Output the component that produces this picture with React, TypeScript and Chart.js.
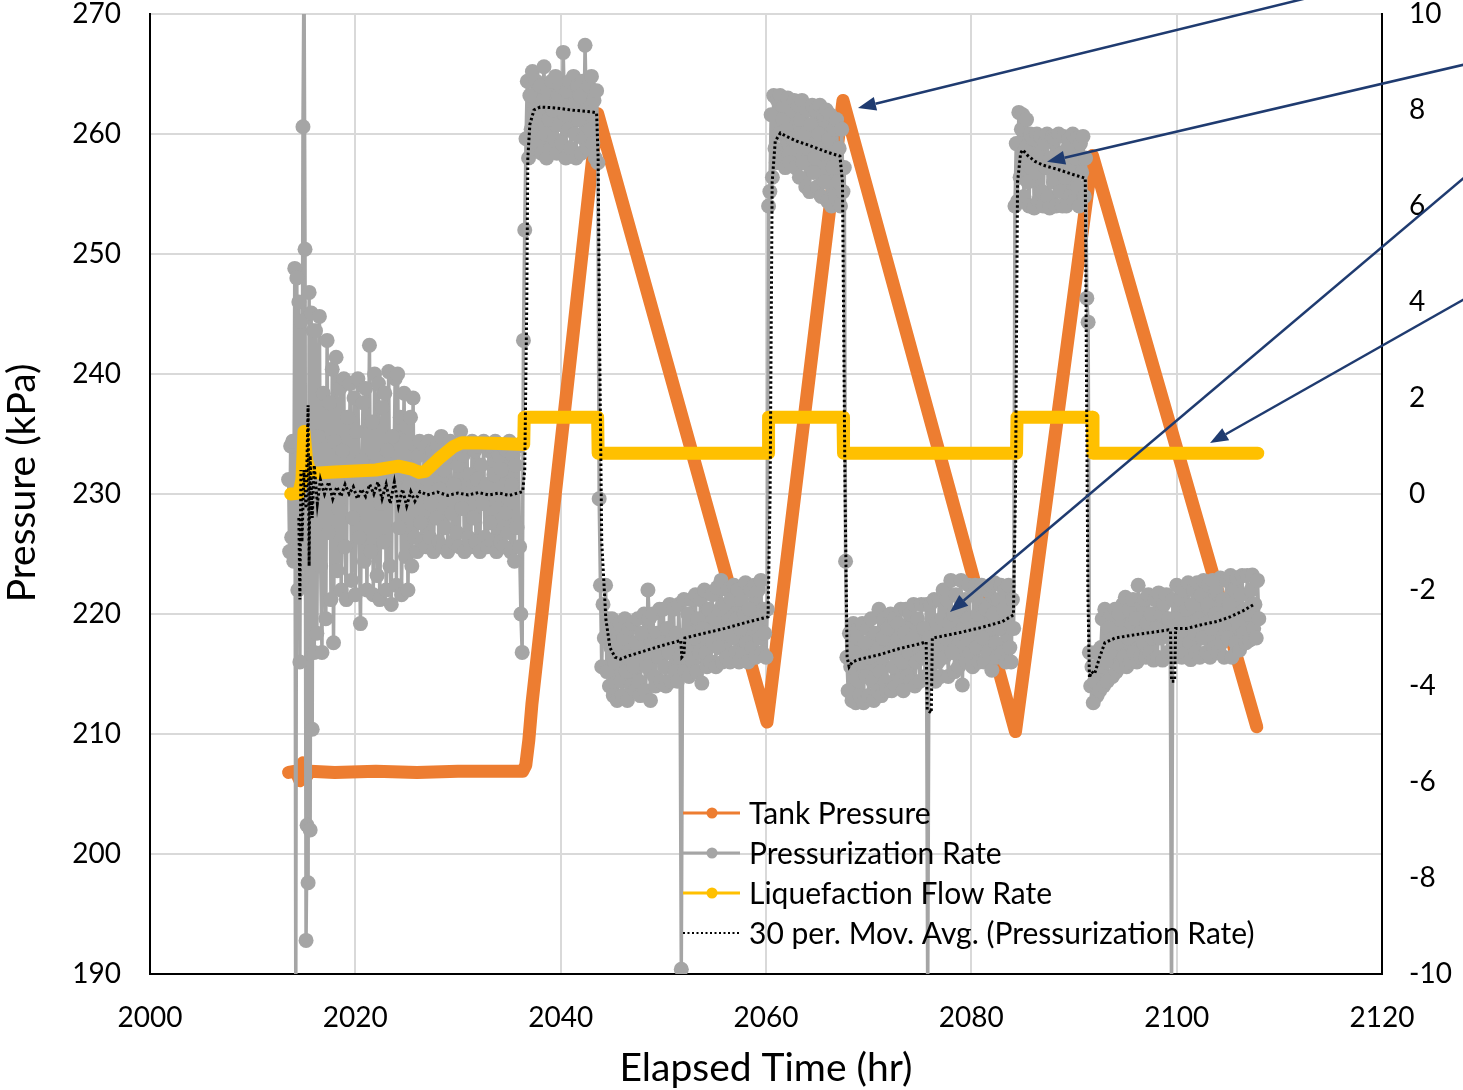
import { useEffect, useRef } from "react";
import { Chart, registerables } from "chart.js";

Chart.register(...registerables);

const FONT = "Lato, 'Open Sans', sans-serif";

// ---------- axes ----------
const xMin = 2000, xMax = 2120, xStep = 20;
const pMin = 190, pMax = 270, pStep = 10;
const rMin = -10, rMax = 10, rStep = 2;

// ---------- Tank Pressure (kPa, left axis): [hr, kPa] ----------
const tankPressure: [number, number][] = [
  [2013.5, 206.8], [2014.2, 206.9], [2014.6, 206.1], [2014.9, 207.6], [2015.2, 206.4],
  [2015.6, 206.9], [2018, 206.8], [2022, 206.9], [2026, 206.8], [2030, 206.9],
  [2034, 206.9], [2036.3, 206.9], [2036.6, 207.4], [2036.9, 209.5], [2037.2, 212.5],
  [2043.6, 261.7], [2060.1, 211.0], [2067.5, 262.8], [2084.3, 210.2], [2091.8, 258.2],
  [2107.8, 210.6],
];

// ---------- Liquefaction Flow Rate (right axis): [hr, value] ----------
const liquefactionRate: [number, number][] = [
  [2013.7, 0.0], [2014.5, 0.02], [2014.8, 0.3], [2015.0, 1.3], [2015.25, 0.7],
  [2015.6, 0.45], [2016.5, 0.44], [2018, 0.46], [2020, 0.48], [2022, 0.5],
  [2024.2, 0.58], [2025.5, 0.52], [2026.2, 0.45], [2026.8, 0.47], [2028.2, 0.75],
  [2029.5, 0.98], [2030.4, 1.07], [2032, 1.06], [2034, 1.05], [2036.4, 1.03],
  [2036.45, 1.6], [2043.6, 1.6], [2043.65, 0.85], [2060.2, 0.85], [2060.25, 1.6],
  [2067.5, 1.6], [2067.55, 0.85], [2084.4, 0.85], [2084.45, 1.6], [2091.8, 1.6],
  [2091.85, 0.85], [2107.9, 0.85],
];

// ---------- Pressurization Rate (right axis), read as regular samples ----------
const rateEarlyStart = 2013.5;
const rateEarlyStep = 0.1;
const rateEarly = [
  0.3, -1.2, 1.0, -0.9, 1.1, -1.4, 4.7, -10.5, 4.5, -2.0,
  4.0, -3.5, 3.6, -1.8, 7.65, 11.0, 5.1, -9.3, -6.9, -8.1,
  4.2, -7.0, 3.77, -4.9, 3.4, -3.3,
];

const rateStep = 0.125;

const rateIdleStart = 2016.125;
const rateIdle = [
  3.4, -2.9, 1.2, 3.7, -1.5, -3.3, 2.1,
  0.4, -2.6, 3.2, -0.8, 1.9, -2.2, 2.6, -3.1,
  1.1, 2.85, -1.6, -0.3, 2.2, -2.0, 0.9, 2.4,
  -1.1, -2.2, 1.6, 0.2, 2.3, -1.8, -0.5, 2.0,
  -2.1, 1.3, 2.4, -0.9, -2.7, 0.7, 1.9, -1.4,
  2.2, -2.0, 0.1, 3.1, -1.2, 1.5, -2.1, 2.5,
  0.6, -1.7, 2.3, -2.2, -0.2, 1.8, -1.0, 2.1,
  -2.0, 0.9, 2.55, -1.5, -2.3, 1.2, 0.3, 2.4,
  -1.9, 2.5, -0.7, 1.6, -2.1, 0.5, 2.1, -1.3,
  1.4, -2.0, 0.2, 1.6, -1.5, 2.0, -0.9, 1.0,
  -1.2, 0.8, 1.1, -0.6, -1.0, 0.4, 1.0, -1.1,
  0.3, 1.1, -0.9, -0.2, 0.9, -1.2, 0.6, -0.5,
  1.0, -1.0, 0.1, 1.2, -1.1, 0.5, -0.7, 0.9,
  -1.2, 0.7, 1.1, -0.4, -1.0, 0.2, 1.0, -0.8,
  0.6, -1.1, 1.3, -0.3, 0.8, -1.2, 0.0, 1.0,
  -0.9, 0.4, -1.1, 1.1, -0.5, 0.9, -1.0, 0.3,
  1.0, -1.2, 0.6, -0.2, 1.1, -0.9, 0.2, -1.1,
  0.9, -0.6, 1.0, -1.0, 0.4, 1.1, -1.2, -0.3,
  0.8, -1.0, 0.5, 1.0, -1.1, -0.4, 0.9, -0.8,
  1.1, -1.2, 0.2, 0.8, -1.4, 0.6, -0.7, 1.0,
  -1.1, -2.5, -3.3,
];

const rateHigh1Start = 2036.375;
const rateHigh1 = [
  3.2, 5.5, 7.4, 8.6, 7.0,
  8.3, 7.6, 8.8, 7.2, 8.0, 8.6, 7.3, 7.9,
  8.5, 7.1, 8.2, 8.9, 7.5, 7.0, 8.4, 7.8,
  7.2, 8.6, 8.0, 7.4, 8.7, 7.1, 8.3, 7.7,
  8.5, 7.3, 9.2, 7.9, 7.0, 8.4, 7.6, 8.6,
  7.2, 8.1, 8.7, 7.5, 7.0, 8.5, 7.8, 8.3,
  7.1, 8.6, 7.4, 9.35, 8.0, 7.2, 8.5, 7.6,
  8.7, 7.3, 8.2, 7.0, 8.4, 6.9,
];

const rateLow1Start = 2043.75;
const rateLow1 = [
  -0.1, -1.9,
  -3.6, -2.3, -3.0, -1.9, -3.7, -2.6, -4.0, -3.2,
  -2.6, -4.2, -3.5, -2.8, -4.3, -3.1, -2.7, -3.9,
  -4.2, -3.0, -2.6, -3.7, -4.3, -2.8, -3.4, -4.0,
  -2.7, -3.6, -4.1, -3.1, -2.6, -3.9, -4.2, -2.9,
  -3.4, -2.5, -4.1, -3.6, -2.0, -2.6, -4.3, -3.2,
  -2.5, -3.8, -4.0, -2.9, -3.4, -2.4, -3.9, -3.1,
  -2.4, -3.6, -4.0, -2.8, -3.3, -2.3, -3.9, -3.0,
  -2.4, -3.7, -2.9, -3.9, -2.3, -3.4, -9.9, -3.1,
  -2.2, -3.7, -3.0, -2.5, -3.8, -2.9, -2.2, -3.5,
  -3.0, -2.1, -3.7, -2.6, -3.3, -2.2, -3.94, -2.8,
  -2.0, -3.3, -3.6, -2.4, -2.9, -3.5, -2.1, -3.1,
  -2.6, -3.6, -1.95, -3.2, -2.4, -1.8, -3.5, -2.9,
  -2.3, -3.4, -2.0, -2.8, -3.5, -2.2, -3.0, -1.9,
  -3.3, -2.6, -2.0, -3.5, -2.8, -2.2, -3.3, -2.5,
  -1.85, -3.1, -3.5, -2.4, -2.0, -3.2, -2.7, -1.9,
  -3.4, -2.6, -2.0, -3.0, -1.8, -3.3, -2.4, -2.9,
  -3.4, -2.4,
];

const rateHigh2Start = 2060.25;
const rateHigh2 = [
  6.0, 6.3, 7.9, 6.6, 8.3, 7.2,
  6.9, 8.2, 7.5, 8.3, 7.0, 7.8, 8.1, 6.8,
  7.6, 8.25, 7.1, 6.9, 8.0, 7.4, 8.2, 6.8,
  7.3, 8.1, 6.6, 7.8, 8.2, 6.9, 7.5, 6.4,
  8.0, 7.2, 6.3, 7.7, 8.1, 6.7, 7.0, 8.0,
  6.4, 7.5, 8.1, 6.2, 7.1, 7.9, 6.5, 8.0,
  6.1, 7.4, 7.9, 6.0, 6.8, 7.6, 6.2, 7.8,
  6.5, 7.2, 6.0, 7.6, 6.3, 6.8,
];

const rateLow2Start = 2067.75;
const rateLow2 = [
  -1.4, -3.4,
  -4.1, -2.9, -3.6, -4.3, -2.7, -3.2, -4.35, -3.0,
  -2.8, -4.2, -3.5, -2.7, -4.35, -3.1, -3.8, -2.8,
  -4.2, -3.4, -2.6, -3.9, -4.3, -2.9, -3.3, -4.1,
  -2.4, -3.7, -4.2, -3.0, -2.6, -3.9, -4.1, -2.8,
  -3.3, -2.5, -4.1, -3.6, -2.6, -4.0, -3.2, -2.7,
  -3.9, -2.4, -3.5, -4.1, -2.9, -2.4, -3.8, -3.3,
  -2.5, -3.9, -3.0, -2.3, -4.0, -3.5, -2.6, -3.2,
  -3.9, -2.3, -3.4, -2.8, -3.8, -2.3, -10.5, -3.0,
  -2.3, -3.8, -3.3, -2.2, -3.9, -2.7, -3.5, -2.2,
  -3.8, -2.6, -2.0, -3.4, -3.0, -2.2, -3.8, -2.7,
  -1.8, -3.3, -2.5, -3.7, -2.1, -2.9, -3.6, -2.4,
  -1.8, -3.98, -2.8, -2.2, -3.5, -2.6, -1.9, -3.3,
  -2.8, -3.6, -2.1, -1.9, -3.2, -2.5, -3.5, -2.3,
  -1.9, -3.0, -3.5, -2.4, -2.0, -3.3, -2.7, -1.9,
  -3.67, -2.5, -1.85, -3.1, -3.4, -2.2, -2.8, -1.9,
  -3.3, -2.4, -2.0, -3.5, -2.7, -1.9, -3.2, -3.5,
  -2.2, -2.8,
];

const rateHigh3Start = 2084.25;
const rateHigh3 = [
  6.0, 7.3, 6.1, 7.95, 6.6, 7.6,
  7.9, 6.2, 7.2, 7.8, 6.5, 6.0, 7.5, 6.8,
  7.4, 5.96, 6.7, 7.5, 6.1, 7.1, 7.45, 6.3,
  6.0, 7.3, 6.8, 7.5, 6.2, 5.96, 7.0, 7.45,
  6.5, 7.4, 6.0, 6.9, 7.5, 6.3, 7.1, 6.0,
  7.45, 6.6, 6.0, 7.2, 7.4, 6.2, 6.8, 7.5,
  6.1, 7.0, 7.4, 6.4, 6.0, 7.3, 6.7, 7.45,
  6.2, 7.0, 4.08, 3.58, -3.3, -4.0,
];

const rateLow3Start = 2091.75;
const rateLow3 = [
  -3.6, -4.35,
  -3.9, -3.3, -4.2, -3.6, -4.1, -3.2, -2.6, -4.0,
  -2.4, -3.5, -3.9, -2.8, -3.3, -2.5, -3.8, -3.0,
  -2.4, -3.7, -3.1, -2.5, -3.6, -2.9, -2.3, -3.4,
  -2.15, -3.6, -3.0, -2.4, -3.5, -2.7, -2.2, -3.3,
  -2.6, -3.5, -1.9, -2.9, -3.4, -2.3, -3.1, -2.2,
  -3.4, -2.7, -2.1, -3.3, -2.5, -3.0, -3.46, -2.2,
  -2.8, -3.4, -2.06, -3.0, -2.5, -3.46, -2.3, -2.9,
  -2.1, -3.3, -2.6, -3.0, -10.5, -2.2, -3.4, -2.6,
  -1.9, -3.2, -2.7, -2.2, -3.4, -2.0, -2.8, -3.3,
  -2.4, -1.85, -3.1, -3.45, -2.3, -2.0, -2.9, -3.3,
  -1.85, -2.6, -3.4, -2.1, -3.0, -1.8, -2.7, -3.3,
  -2.3, -1.9, -3.4, -2.8, -1.8, -3.2, -2.5, -2.0,
  -3.3, -2.6, -1.75, -3.1, -2.2, -3.4, -2.7, -1.8,
  -3.0, -2.3, -1.7, -3.4, -2.6, -2.0, -3.1, -1.75,
  -2.7, -3.25, -2.1, -1.7, -2.9, -2.4, -3.1, -1.7,
  -2.5, -3.04, -2.0, -1.69, -2.8, -2.3, -3.0, -1.8,
  -2.6,
];

// ---------- 30 per. Mov. Avg. (Pressurization Rate): [hr, value] ----------
const movingAvg: [number, number][] = [
  [2014.5, -0.5], [2014.6, -2.2], [2014.7, 0.5], [2014.8, -1.0], [2015.0, 0.5],
  [2015.2, -0.3], [2015.4, 1.85], [2015.5, -1.5], [2015.6, 0.8], [2015.8, -0.5],
  [2016.0, 0.6], [2016.3, -0.2], [2016.6, 0.3], [2017.0, 0.0], [2017.4, 0.25],
  [2017.8, -0.1], [2018.2, 0.15], [2018.6, -0.05], [2019.0, 0.2], [2019.4, 0.0],
  [2019.8, 0.15], [2020.2, -0.1], [2020.6, 0.1], [2021.0, -0.05], [2021.4, 0.2],
  [2021.8, 0.0], [2022.2, 0.25], [2022.6, -0.1], [2023.0, 0.2], [2023.4, -0.2],
  [2023.8, 0.25], [2024.2, -0.25], [2024.6, 0.1], [2025.0, -0.25], [2025.4, 0.05],
  [2025.8, -0.15], [2026.3, 0.05], [2027, -0.02], [2028, 0.04], [2029, -0.03],
  [2030, 0.02], [2031, -0.02], [2032, 0.03], [2033, -0.02], [2034, 0.02],
  [2035, -0.03], [2036.3, 0.05], [2036.5, 0.5], [2036.7, 4.0], [2036.8, 7.0],
  [2037.0, 7.7], [2037.4, 8.0], [2038.0, 8.06], [2039, 8.05], [2040, 8.03],
  [2041, 8.0], [2042, 7.98], [2043, 7.96], [2043.5, 7.94], [2043.65, 7.0],
  [2043.8, 3.0], [2044.0, -1.0], [2044.4, -2.6], [2044.8, -3.2], [2045.3, -3.4],
  [2045.8, -3.44], [2046.5, -3.38], [2048, -3.28], [2050, -3.15], [2051.7, -3.05],
  [2051.8, -3.4], [2052.0, -3.35], [2052.1, -3.0], [2054, -2.9], [2056, -2.8],
  [2058, -2.68], [2060.2, -2.56], [2060.4, 0.0], [2060.6, 6.5], [2060.9, 7.35],
  [2061.4, 7.52], [2062, 7.45], [2063, 7.35], [2064, 7.28], [2065, 7.2],
  [2066, 7.12], [2067.2, 7.04], [2067.45, 6.5], [2067.7, 0.0], [2067.9, -3.4],
  [2068.1, -3.6], [2068.4, -3.5], [2069, -3.45], [2071, -3.35], [2073, -3.22],
  [2075, -3.12], [2075.6, -3.08], [2075.7, -4.5], [2076.1, -4.56], [2076.2, -3.0],
  [2077, -2.97], [2079, -2.88], [2081, -2.78], [2083, -2.66], [2084.1, -2.52],
  [2084.3, 0.0], [2084.5, 6.5], [2084.8, 7.1], [2085.0, 7.17], [2085.5, 7.05],
  [2086.2, 6.93], [2087, 6.85], [2088.6, 6.75], [2090, 6.65], [2091.1, 6.58],
  [2091.2, 3.0], [2091.35, -2.0], [2091.5, -3.83], [2091.7, -3.7], [2092.0, -3.75],
  [2092.5, -3.4], [2093.0, -3.1], [2094, -3.0], [2096, -2.93], [2098, -2.87],
  [2099.2, -2.83], [2099.4, -2.85], [2099.5, -3.9], [2099.8, -3.9], [2099.9, -2.8],
  [2101, -2.8], [2102.3, -2.73], [2104, -2.65], [2105.2, -2.56], [2106.5, -2.43],
  [2107.6, -2.29],
];

// ---------- annotation arrows (hr, right-axis value) ----------
const arrowTails: [number, number][] = [[2115.9, 10.5], [2129.1, 9.0], [2129.1, 6.79], [2129.1, 4.19]];
const arrowTips: [number, number][] = [[2068.96, 8.04], [2087.37, 6.92], [2077.92, -2.46], [2103.25, 1.06]];

const legendLabels = [
  "Tank Pressure",
  "Pressurization Rate",
  "Liquefaction Flow Rate",
  "30 per. Mov. Avg. (Pressurization Rate)",
];

const ORANGE = "#ED7D31";
const GRAY = "#A5A5A5";
const YELLOW = "#FFC000";
const NAVY = "#1F3B70";

const pairs = (arr: [number, number][]) => arr.map(([x, y]) => ({ x, y }));
const sampled = (start: number, step: number, vals: number[]) =>
  vals.map((y, i) => ({ x: Math.round((start + i * step) * 1000) / 1000, y }));

const ratePoints = [
  ...sampled(rateEarlyStart, rateEarlyStep, rateEarly),
  ...sampled(rateIdleStart, rateStep, rateIdle),
  ...sampled(rateHigh1Start, rateStep, rateHigh1),
  ...sampled(rateLow1Start, rateStep, rateLow1),
  ...sampled(rateHigh2Start, rateStep, rateHigh2),
  ...sampled(rateLow2Start, rateStep, rateLow2),
  ...sampled(rateHigh3Start, rateStep, rateHigh3),
  ...sampled(rateLow3Start, rateStep, rateLow3),
];

const overlayPlugin = {
  id: "overlay",
  afterDraw(chart: any) {
    const ctx: CanvasRenderingContext2D = chart.ctx;
    const xs = chart.scales.x;
    const ys = chart.scales.y2;
    const area = chart.chartArea;
    ctx.save();

    // axis titles
    ctx.fillStyle = "#000";
    ctx.font = `39px ${FONT}`;
    ctx.textAlign = "center";
    ctx.textBaseline = "middle";
    ctx.fillText("Elapsed Time (hr)", (area.left + area.right) / 2, 1068);
    ctx.save();
    ctx.translate(22, 483);
    ctx.rotate(-Math.PI / 2);
    ctx.fillText("Pressure (kPa)", 0, 0);
    ctx.restore();

    // legend
    const lx = 683;
    const colors = [ORANGE, GRAY, YELLOW];
    ctx.font = `30px ${FONT}`;
    ctx.textAlign = "left";
    legendLabels.forEach((label, i) => {
      const cy = 813 + i * 40;
      if (i < 3) {
        ctx.strokeStyle = colors[i];
        ctx.lineWidth = 3;
        ctx.setLineDash([]);
        ctx.beginPath();
        ctx.moveTo(lx, cy);
        ctx.lineTo(lx + 57, cy);
        ctx.stroke();
        ctx.fillStyle = colors[i];
        ctx.beginPath();
        ctx.arc(lx + 29, cy, 5.5, 0, Math.PI * 2);
        ctx.fill();
      } else {
        ctx.strokeStyle = "#000";
        ctx.lineWidth = 2;
        ctx.setLineDash([2, 2.5]);
        ctx.beginPath();
        ctx.moveTo(lx, cy);
        ctx.lineTo(lx + 56, cy);
        ctx.stroke();
        ctx.setLineDash([]);
      }
      ctx.fillStyle = "#000";
      ctx.fillText(label, lx + 66, cy + 1);
    });

    // arrows
    ctx.strokeStyle = NAVY;
    ctx.fillStyle = NAVY;
    ctx.lineWidth = 2.5;
    arrowTails.forEach((tail, i) => {
      const tip = arrowTips[i];
      const x0 = xs.getPixelForValue(tail[0]);
      const y0 = ys.getPixelForValue(tail[1]);
      const x1 = xs.getPixelForValue(tip[0]);
      const y1 = ys.getPixelForValue(tip[1]);
      const ang = Math.atan2(y1 - y0, x1 - x0);
      const len = 18, half = 7;
      const bx = x1 - len * Math.cos(ang);
      const by = y1 - len * Math.sin(ang);
      ctx.beginPath();
      ctx.moveTo(x0, y0);
      ctx.lineTo(bx, by);
      ctx.stroke();
      ctx.beginPath();
      ctx.moveTo(x1, y1);
      ctx.lineTo(bx + half * Math.sin(ang), by - half * Math.cos(ang));
      ctx.lineTo(bx - half * Math.sin(ang), by + half * Math.cos(ang));
      ctx.closePath();
      ctx.fill();
    });
    ctx.restore();
  },
};

const zeroPad = (s: any) => {
  s.paddingTop = 0;
  s.paddingBottom = 0;
  s.paddingLeft = 0;
  s.paddingRight = 0;
};

export default function App() {
  const ref = useRef<HTMLCanvasElement | null>(null);

  useEffect(() => {
    let chart: Chart | null = null;
    let cancelled = false;
    const make = () => {
      if (cancelled || !ref.current) return;
      const tickFont = { family: FONT, size: 28 };
      chart = new Chart(ref.current, {
        type: "line",
        data: {
          datasets: [
            {
              label: "30 per. Mov. Avg. (Pressurization Rate)",
              data: pairs(movingAvg),
              yAxisID: "y2",
              borderColor: "#000",
              borderWidth: 3,
              borderDash: [2.5, 2.5],
              pointRadius: 0,
              fill: false,
              clip: 0,
            },
            {
              label: "Liquefaction Flow Rate",
              data: pairs(liquefactionRate),
              yAxisID: "y2",
              borderColor: YELLOW,
              borderWidth: 13,
              borderCapStyle: "round",
              borderJoinStyle: "round",
              pointRadius: 0,
              fill: false,
              clip: 0,
            },
            {
              label: "Pressurization Rate",
              data: ratePoints,
              yAxisID: "y2",
              borderColor: GRAY,
              borderWidth: 3.5,
              pointRadius: 7.5,
              pointBackgroundColor: GRAY,
              pointBorderColor: GRAY,
              pointBorderWidth: 0,
              fill: false,
              clip: 0,
            },
            {
              label: "Tank Pressure",
              data: pairs(tankPressure),
              yAxisID: "y",
              borderColor: ORANGE,
              borderWidth: 13,
              borderCapStyle: "round",
              borderJoinStyle: "round",
              pointRadius: 0,
              fill: false,
              clip: 0,
            },
          ],
        } as any,
        options: {
          responsive: false,
          animation: false,
          events: [],
          layout: { padding: { top: 14, left: 0, right: 0, bottom: 0 } },
          plugins: { legend: { display: false }, tooltip: { enabled: false } },
          scales: {
            x: {
              type: "linear",
              min: xMin,
              max: xMax,
              ticks: { stepSize: xStep, font: tickFont, color: "#000", padding: 27, maxRotation: 0, callback: (v: any) => String(v) },
              grid: { color: "#D9D9D9", lineWidth: 2, drawTicks: false },
              border: { color: "#000", width: 2 },
              afterFit: (s: any) => { s.height = 116; zeroPad(s); },
            },
            y: {
              type: "linear",
              position: "left",
              min: pMin,
              max: pMax,
              ticks: { stepSize: pStep, font: tickFont, color: "#000", padding: 29, callback: (v: any) => String(v) },
              grid: { color: "#D9D9D9", lineWidth: 2, drawTicks: false },
              border: { color: "#000", width: 2 },
              afterFit: (s: any) => { s.width = 150; zeroPad(s); },
            },
            y2: {
              type: "linear",
              position: "right",
              min: rMin,
              max: rMax,
              ticks: { stepSize: rStep, font: tickFont, color: "#000", padding: 27, callback: (v: any) => String(v) },
              grid: { display: false, drawTicks: false },
              border: { color: "#000", width: 2 },
              afterFit: (s: any) => { s.width = 81; zeroPad(s); },
            },
          },
        } as any,
        plugins: [overlayPlugin],
      });
    };
    if ((document as any).fonts && (document as any).fonts.load) {
      (document as any).fonts.load(`28px Lato`).then(make, make);
    } else {
      make();
    }
    return () => {
      cancelled = true;
      if (chart) chart.destroy();
    };
  }, []);

  return (
    <div style={{ position: "absolute", left: 0, top: 0, width: 1463, height: 1090, background: "#fff" }}>
      <canvas ref={ref} width={1463} height={1090} style={{ display: "block", width: 1463, height: 1090 }} />
    </div>
  );
}
